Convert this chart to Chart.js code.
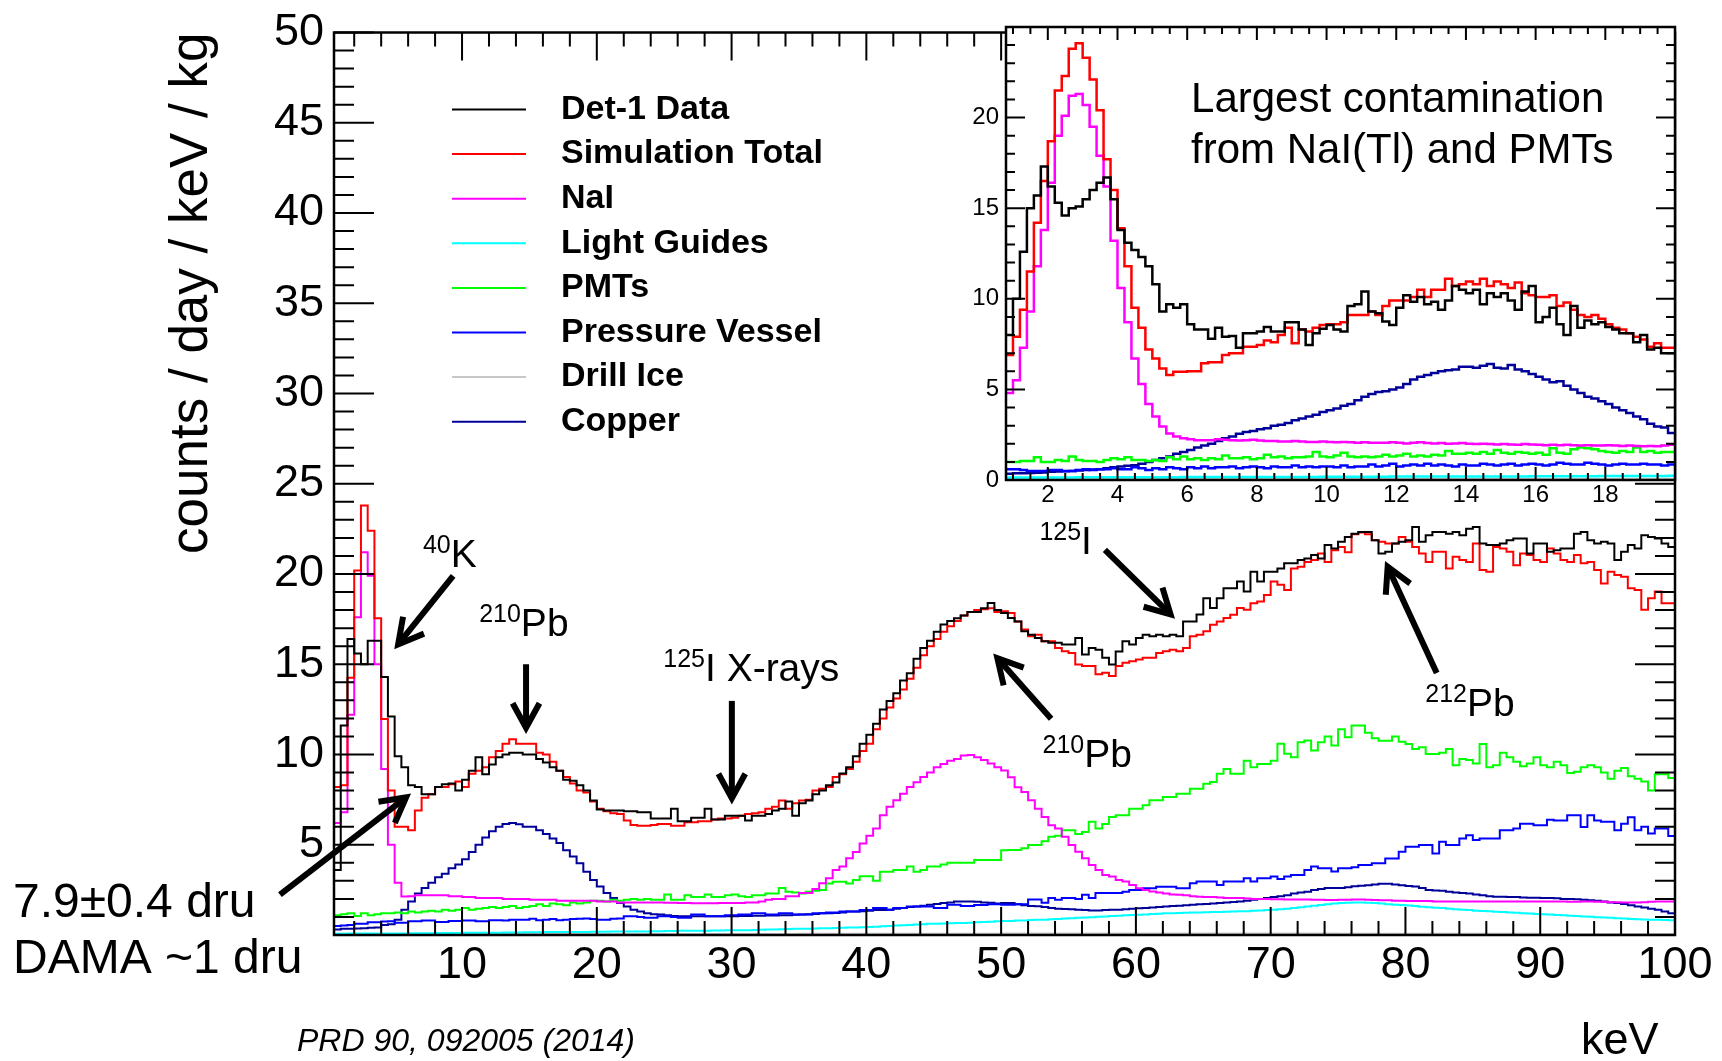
<!DOCTYPE html>
<html>
<head>
<meta charset="utf-8">
<title>Det-1 background spectrum</title>
<script src="https://cdn.jsdelivr.net/npm/chart.js"></script>
<style>
    html, body { margin: 0; padding: 0; background: #fff; }
    #wrap { position: relative; width: 1722px; height: 1061px; }
    #mainCanvas { position: absolute; left: 0; top: 0; }
    #insetCanvas { position: absolute; left: 940px; top: 0; }
</style>
</head>
<body>
<div id="wrap">
    <canvas id="mainCanvas" width="1722" height="1061"></canvas>
    <canvas id="insetCanvas" width="782" height="540"></canvas>
</div>
<script>
const FONT = "'Liberation Sans', Arial, Helvetica, sans-serif";

// legend order and ROOT colours
const seriesNames = ['Det-1 Data', 'Simulation Total', 'NaI', 'Light Guides', 'PMTs', 'Pressure Vessel', 'Drill Ice', 'Copper'];
const seriesColors = ['#000000', '#ff0000', '#ff00ff', '#00ffff', '#00ff00', '#0000ff', '#c8c8c8', '#000099'];

// axis ticks
const mainXTicks = [10, 20, 30, 40, 50, 60, 70, 80, 90, 100];
const mainYTicks = [5, 10, 15, 20, 25, 30, 35, 40, 45, 50];
const insetXTicks = [2, 4, 6, 8, 10, 12, 14, 16, 18];
const insetYTicks = [0, 5, 10, 15, 20];

// main spectrum: 0.5 keV bins starting at 0.5 keV
const mainStart = 0.5;
const mainWidth = 0.5;

const mainDet1 = [
    3.6, 11.6, 16.4, 15.6, 15.0, 16.3, 16.3, 14.3, 12.1,
    9.9, 9.3, 8.3, 8.2, 7.8, 7.8, 8.2, 8.35, 8.4, 8.0,
    8.6, 9.1, 9.85, 8.9, 9.45, 9.85, 10.0, 10.1, 10.1, 10.0,
    10.0, 9.75, 9.55, 9.3, 9.1, 8.6, 8.55, 8.3, 8.0, 7.45,
    6.95, 6.9, 6.9, 6.9, 6.85, 6.85, 6.8, 6.8, 6.45, 6.45,
    6.45, 7.0, 6.3, 6.3, 6.5, 6.5, 7.0, 6.4, 6.4, 6.6,
    6.6, 6.6, 6.35, 6.6, 6.6, 6.7, 6.9, 7.0, 7.4, 6.6,
    7.3, 7.45, 7.8, 8.0, 8.3, 8.45, 8.95, 9.3, 9.9, 10.6,
    11.1, 11.7, 12.5, 12.96, 13.4, 14.1, 14.5, 15.3, 15.9, 16.3,
    16.8, 17.2, 17.4, 17.55, 17.7, 17.9, 17.9, 18.1, 18.4, 18.0,
    17.84, 17.56, 17.37, 16.83, 16.64, 16.46, 16.28, 16.19, 16.19, 16.09,
    16.09, 16.46, 15.54, 15.9, 15.8, 15.36, 14.99, 15.7, 16.28, 16.09,
    16.46, 16.64, 16.55, 16.64, 16.55, 16.64, 16.55, 17.37, 17.37, 17.75,
    18.66, 18.11, 18.66, 19.21, 19.21, 19.58, 19.03, 20.13, 19.58, 20.13,
    20.13, 20.31, 20.59, 20.59, 20.77, 20.86, 21.05, 20.86, 21.6, 21.41,
    21.78, 22.05, 22.23, 22.33, 22.33, 21.87, 21.14, 21.23, 21.69, 21.78,
    21.87, 22.6, 21.78, 22.14, 22.33, 22.33, 22.23, 22.33, 22.14, 22.51,
    22.6, 21.69, 21.6, 21.6, 21.69, 21.87, 21.96, 21.96, 21.14, 21.69,
    21.69, 21.23, 21.32, 21.41, 21.41, 22.23, 22.33, 21.87, 21.69, 21.78,
    21.69, 20.77, 21.23, 21.6, 21.41, 22.14, 22.05, 21.96, 21.69, 21.5
];

const mainSimTotal = [
    8.2, 8.3, 14.25, 20.2, 23.8, 22.4, 17.55, 11.96, 8.0,
    6.0, 6.0, 5.8, 6.9, 7.6, 7.8, 8.2, 8.2, 8.35, 8.5,
    8.2, 8.93, 9.1, 9.3, 9.85, 10.2, 10.6, 10.85, 10.6, 10.6,
    10.6, 10.1, 10.0, 9.6, 9.1, 8.75, 8.4, 8.0, 7.9, 7.4,
    7.0, 6.85, 6.75, 6.7, 6.35, 6.1, 6.05, 6.05, 6.1, 6.15,
    6.15, 6.05, 6.05, 6.25, 6.25, 6.3, 6.3, 6.4, 6.45, 6.45,
    6.5, 6.6, 6.7, 6.75, 6.8, 7.0, 7.1, 7.45, 7.0, 7.3,
    7.45, 7.5, 8.0, 8.1, 8.2, 8.75, 8.9, 9.2, 9.6, 10.2,
    10.6, 11.4, 12.0, 12.6, 13.1, 13.6, 14.2, 14.8, 15.5, 16.0,
    16.4, 16.8, 17.1, 17.4, 17.7, 17.9, 18.0, 18.05, 18.1, 17.9,
    17.93, 17.84, 17.37, 16.92, 16.55, 16.64, 16.28, 16.28, 15.9, 15.72,
    15.63, 14.99, 14.9, 14.9, 14.44, 14.53, 14.35, 14.9, 15.08, 15.17,
    15.26, 15.36, 15.36, 15.63, 15.72, 15.8, 15.72, 15.9, 16.55, 16.64,
    16.83, 17.19, 17.37, 17.56, 17.74, 18.11, 18.02, 18.38, 18.47, 18.84,
    19.58, 19.4, 19.12, 20.31, 20.4, 20.67, 20.77, 21.14, 20.67, 21.32,
    21.5, 21.2, 22.2, 22.3, 22.2, 21.87, 21.78, 21.69, 21.69, 22.05,
    21.78, 21.5, 21.14, 20.67, 21.23, 21.23, 20.31, 20.95, 20.77, 20.67,
    21.69, 20.22, 20.13, 21.5, 21.41, 21.23, 20.49, 21.14, 21.05, 20.77,
    20.67, 21.41, 21.14, 20.77, 20.67, 21.05, 20.59, 20.67, 20.22, 19.48,
    20.13, 19.94, 19.85, 19.21, 19.12, 18.02, 18.66, 19.03, 18.38, 18.38
];

const mainNaI = [
    6.2, 6.8, 12.2, 17.6, 21.2, 19.9, 15.0, 9.2, 5.0,
    2.9, 2.13, 2.15, 2.2, 2.2, 2.2, 2.2, 2.2, 2.15, 2.15,
    2.1, 2.1, 2.05, 2.05, 2.05, 2.05, 2.0, 2.0, 2.0, 2.0,
    1.95, 1.95, 1.95, 1.95, 1.9, 1.9, 1.9, 1.9, 1.9, 1.9,
    1.85, 1.85, 1.85, 1.8, 1.8, 1.8, 1.8, 1.8, 1.8, 1.8,
    1.78, 1.78, 1.77, 1.77, 1.76, 1.76, 1.76, 1.76, 1.77, 1.77,
    1.77, 1.77, 1.8, 1.8, 1.85, 1.95, 2.0, 2.0, 2.14, 2.14,
    2.33, 2.33, 2.55, 2.87, 3.15, 3.6, 3.79, 4.25, 4.6, 5.07,
    5.5, 5.9, 6.63, 7.1, 7.46, 7.83, 8.2, 8.46, 8.75, 9.0,
    9.3, 9.48, 9.66, 9.75, 9.94, 9.97, 9.85, 9.7, 9.5, 9.3,
    9.11, 8.74, 8.19, 7.92, 7.46, 7.0, 6.54, 6.08, 5.9, 5.44,
    4.98, 4.61, 4.25, 3.88, 3.6, 3.33, 3.24, 3.05, 2.96, 2.77,
    2.59, 2.5, 2.41, 2.35, 2.3, 2.25, 2.23, 2.2, 2.15, 2.12,
    2.1, 2.1, 2.08, 2.05, 2.05, 2.05, 2.02, 2.0, 2.0, 2.0,
    1.98, 1.98, 1.97, 1.96, 1.96, 1.96, 1.95, 1.95, 1.94, 1.94,
    1.95, 1.95, 1.97, 1.96, 1.95, 1.94, 1.92, 1.92, 1.9, 1.9,
    1.88, 1.88, 1.88, 1.88, 1.86, 1.86, 1.86, 1.86, 1.86, 1.86,
    1.86, 1.86, 1.86, 1.86, 1.85, 1.85, 1.86, 1.86, 1.86, 1.86,
    1.86, 1.85, 1.85, 1.85, 1.84, 1.84, 1.85, 1.86, 1.84, 1.84,
    1.82, 1.82, 1.8, 1.8, 1.8, 1.82, 1.84, 1.86, 1.86, 1.86
];

const mainGuides = [
    0.07, 0.07, 0.08, 0.08, 0.08, 0.08, 0.09, 0.09, 0.09,
    0.09, 0.09, 0.1, 0.1, 0.1, 0.1, 0.11, 0.11, 0.11, 0.11,
    0.12, 0.12, 0.12, 0.13, 0.13, 0.13, 0.14, 0.14, 0.14, 0.15,
    0.15, 0.15, 0.16, 0.16, 0.16, 0.17, 0.17, 0.17, 0.17, 0.18,
    0.18, 0.18, 0.19, 0.19, 0.19, 0.2, 0.2, 0.2, 0.21, 0.21,
    0.22, 0.22, 0.23, 0.23, 0.24, 0.24, 0.24, 0.25, 0.25, 0.26,
    0.26, 0.27, 0.27, 0.28, 0.29, 0.3, 0.31, 0.32, 0.33, 0.34,
    0.34, 0.35, 0.36, 0.37, 0.38, 0.39, 0.4, 0.41, 0.42, 0.43,
    0.44, 0.46, 0.48, 0.5, 0.52, 0.54, 0.56, 0.58, 0.6, 0.62,
    0.63, 0.64, 0.65, 0.66, 0.67, 0.68, 0.7, 0.72, 0.74, 0.76,
    0.77, 0.78, 0.8, 0.81, 0.83, 0.84, 0.85, 0.87, 0.89, 0.91,
    0.93, 0.95, 0.97, 0.99, 1.01, 1.03, 1.05, 1.07, 1.09, 1.11,
    1.12, 1.14, 1.16, 1.18, 1.2, 1.21, 1.22, 1.23, 1.24, 1.25,
    1.26, 1.27, 1.28, 1.29, 1.3, 1.31, 1.32, 1.34, 1.36, 1.38,
    1.4, 1.43, 1.46, 1.5, 1.54, 1.58, 1.62, 1.66, 1.7, 1.74,
    1.77, 1.79, 1.8, 1.8, 1.79, 1.77, 1.74, 1.71, 1.68, 1.66,
    1.63, 1.6, 1.57, 1.54, 1.51, 1.49, 1.46, 1.43, 1.4, 1.38,
    1.35, 1.33, 1.31, 1.29, 1.27, 1.25, 1.23, 1.21, 1.19, 1.17,
    1.15, 1.13, 1.11, 1.09, 1.07, 1.05, 1.03, 1.01, 0.99, 0.97,
    0.95, 0.93, 0.91, 0.89, 0.87, 0.86, 0.85, 0.84, 0.83, 0.82
];

const mainPMTs = [
    1.1, 1.15, 1.2, 1.05, 1.2, 1.1, 1.15, 1.2, 1.2,
    1.25, 1.2, 1.3, 1.25, 1.3, 1.35, 1.3, 1.4, 1.35, 1.4,
    1.5, 1.4, 1.45, 1.5, 1.55, 1.5, 1.55, 1.6, 1.5, 1.55,
    1.6, 1.7, 1.6, 1.75, 1.7, 1.65, 1.8, 1.75, 1.8, 1.9,
    1.9, 1.85, 1.95, 1.9, 1.95, 2.0, 1.95, 2.0, 1.95, 1.95,
    2.25, 1.95, 1.95, 2.2, 2.1, 2.1, 2.25, 2.1, 2.1, 2.2,
    2.25, 2.15, 2.1, 2.2, 2.2, 2.3, 2.3, 2.6, 2.4, 2.35,
    2.3, 2.4, 2.45, 2.5, 2.85, 2.95, 2.95, 2.85, 3.05, 3.25,
    3.25, 3.0, 3.5, 3.5, 3.6, 3.6, 3.8, 3.5, 3.6, 3.8,
    3.8, 3.9, 4.0, 4.0, 4.0, 4.0, 4.16, 4.16, 4.16, 4.16,
    4.7, 4.71, 4.71, 4.8, 4.98, 4.98, 5.2, 5.44, 5.5, 5.8,
    5.8, 5.6, 5.7, 6.27, 5.9, 6.15, 6.54, 6.63, 6.63, 7.0,
    7.0, 7.19, 7.46, 7.46, 7.65, 7.65, 7.83, 7.83, 8.1, 8.1,
    8.38, 8.47, 8.93, 9.2, 8.93, 8.93, 9.66, 9.3, 9.48, 9.48,
    9.66, 10.59, 10.04, 9.85, 10.68, 10.77, 10.22, 10.68, 11.0, 10.5,
    11.4, 10.95, 11.6, 11.6, 11.2, 10.9, 10.76, 10.76, 11.0, 10.7,
    10.58, 10.3, 10.4, 10.03, 10.03, 10.1, 10.3, 9.4, 9.75, 9.7,
    9.5, 10.58, 9.3, 9.4, 10.1, 9.85, 9.6, 9.35, 9.5, 9.85,
    9.4, 9.3, 9.6, 9.4, 8.98, 9.05, 9.3, 9.4, 9.3, 9.0,
    8.66, 9.1, 9.25, 8.8, 8.66, 8.5, 8.0, 8.9, 8.9, 8.7
];

const mainVessel = [
    0.5, 0.52, 0.55, 0.62, 0.63, 0.7, 0.71, 0.75, 0.76,
    0.68, 0.68, 0.76, 0.76, 0.8, 0.8, 0.72, 0.72, 0.78, 0.78,
    0.8, 0.8, 0.76, 0.76, 0.82, 0.82, 0.8, 0.85, 0.85, 0.85,
    0.9, 0.82, 0.85, 0.88, 0.82, 0.85, 0.88, 0.9, 0.92, 0.88,
    0.85, 0.85, 0.9, 0.92, 1.04, 1.04, 1.0, 0.95, 0.95, 1.04,
    1.04, 1.0, 0.95, 0.95, 1.13, 1.13, 1.04, 1.04, 1.04, 1.1,
    1.1, 1.13, 1.13, 1.2, 1.2, 1.13, 1.13, 1.2, 1.2, 1.13,
    1.13, 1.13, 1.2, 1.2, 1.24, 1.24, 1.3, 1.3, 1.3, 1.39,
    1.39, 1.5, 1.5, 1.4, 1.5, 1.5, 1.58, 1.58, 1.58, 1.58,
    1.5, 1.5, 1.68, 1.68, 1.6, 1.6, 1.66, 1.66, 1.7, 1.7,
    1.68, 1.68, 1.7, 1.7, 1.96, 1.96, 1.78, 2.05, 1.95, 2.05,
    2.05, 2.0, 2.23, 2.05, 2.32, 2.32, 2.32, 2.32, 2.4, 2.5,
    2.5, 2.59, 2.59, 2.68, 2.68, 2.68, 2.59, 2.59, 2.87, 2.96,
    2.96, 2.96, 2.77, 2.96, 2.96, 2.96, 3.14, 2.96, 3.14, 3.14,
    3.24, 3.1, 3.24, 3.33, 3.33, 3.6, 3.79, 3.7, 3.7, 3.52,
    3.7, 3.7, 3.75, 3.88, 3.88, 3.97, 3.97, 4.24, 4.24, 4.61,
    4.89, 4.89, 4.98, 4.98, 4.52, 5.17, 4.98, 4.98, 5.35, 5.53,
    5.26, 5.35, 5.35, 5.35, 5.8, 5.8, 5.9, 6.17, 6.17, 6.08,
    6.08, 6.39, 6.35, 6.35, 6.63, 6.63, 5.99, 6.63, 6.35, 6.27,
    6.27, 5.8, 6.17, 6.53, 5.8, 6.0, 5.62, 5.9, 5.9, 5.48
];

const mainCopper = [
    0.3, 0.34, 0.34, 0.36, 0.38, 0.4, 0.42, 0.55, 0.6,
    0.85, 1.4, 1.86, 2.3, 2.6, 2.9, 3.2, 3.4, 3.7, 3.9,
    4.2, 4.6, 5.0, 5.4, 5.75, 6.0, 6.15, 6.2, 6.14, 6.0,
    6.0, 5.8, 5.6, 5.35, 5.1, 4.7, 4.35, 3.98, 3.5, 3.05,
    2.69, 2.32, 2.05, 1.77, 1.58, 1.4, 1.3, 1.2, 1.15, 1.13,
    1.1, 1.05, 1.04, 1.04, 1.04, 1.04, 1.04, 1.04, 1.04, 1.04,
    1.04, 1.05, 1.05, 1.06, 1.06, 1.08, 1.08, 1.1, 1.1, 1.12,
    1.13, 1.15, 1.17, 1.2, 1.2, 1.22, 1.25, 1.3, 1.3, 1.32,
    1.35, 1.39, 1.39, 1.4, 1.45, 1.5, 1.55, 1.58, 1.62, 1.68,
    1.72, 1.77, 1.8, 1.86, 1.86, 1.86, 1.84, 1.8, 1.78, 1.75,
    1.77, 1.77, 1.7, 1.65, 1.6, 1.59, 1.55, 1.5, 1.46, 1.44,
    1.42, 1.4, 1.38, 1.36, 1.36, 1.38, 1.4, 1.4, 1.42, 1.45,
    1.48, 1.5, 1.53, 1.55, 1.58, 1.6, 1.62, 1.65, 1.68, 1.7,
    1.72, 1.75, 1.77, 1.8, 1.83, 1.86, 1.9, 1.95, 2.0, 2.05,
    2.1, 2.15, 2.2, 2.3, 2.35, 2.4, 2.5, 2.55, 2.6, 2.6,
    2.6, 2.65, 2.7, 2.73, 2.76, 2.8, 2.84, 2.84, 2.8, 2.75,
    2.72, 2.69, 2.6, 2.5, 2.47, 2.45, 2.4, 2.35, 2.33, 2.3,
    2.25, 2.2, 2.15, 2.12, 2.12, 2.1, 2.1, 2.08, 2.07, 2.06,
    2.05, 2.05, 2.03, 2.0, 2.0, 1.98, 1.95, 1.92, 1.9, 1.85,
    1.8, 1.77, 1.72, 1.65, 1.58, 1.52, 1.45, 1.4, 1.3, 1.2
];

// drill ice is flat at the floor, read on 5 keV bins
const iceStart = 0;
const iceWidth = 5;
const mainIce = [0.04, 0.05, 0.05, 0.05, 0.06, 0.06, 0.06, 0.07, 0.07, 0.07,
    0.08, 0.08, 0.08, 0.08, 0.08, 0.07, 0.07, 0.07, 0.06, 0.06];

// inset: 0.2 keV bins starting at 0.8 keV
const insetStart = 0.8;
const insetWidth = 0.2;

const insetDet1 = [
    8.0, 10.0, 12.6, 15.0, 15.7,
    17.3, 16.2, 15.3, 14.6, 15.0,
    15.1, 15.5, 16.0, 16.4, 16.7,
    15.5, 13.8, 13.1, 12.7, 12.3,
    11.8, 10.8, 9.3, 9.7, 9.5,
    9.7, 8.6, 8.3, 8.3, 7.8,
    8.4, 7.9, 7.95, 7.3, 8.1,
    8.1, 8.2, 8.45, 8.2, 8.2,
    8.7, 8.7, 8.3, 7.45, 8.1,
    8.35, 8.55, 8.3, 8.2, 9.6,
    9.7, 10.4, 9.3, 9.2, 8.75,
    8.55, 9.5, 10.2, 9.84, 10.1,
    9.7, 9.84, 9.4, 9.9, 10.7,
    10.5, 10.3, 10.5, 9.7, 10.3,
    10.1, 10.3, 9.9, 9.4, 10.4,
    10.7, 8.7, 9.0, 9.5, 8.6,
    8.0, 9.6, 8.4, 8.8, 8.6,
    8.7, 8.45, 8.3, 8.1, 8.1,
    7.6, 8.0, 7.2, 7.3, 7.0,
    7.0
];

const insetSimTotal = [
    6.9, 7.9, 9.4, 11.5, 14.2,
    16.5, 18.7, 21.5, 22.3, 23.8,
    24.1, 23.3, 22.1, 20.4, 17.7,
    16.0, 13.9, 11.8, 9.5, 8.4,
    7.2, 6.7, 6.15, 5.8, 5.97,
    5.97, 6.0, 6.0, 6.44, 6.5,
    6.5, 6.9, 7.0, 7.0, 7.35,
    7.35, 7.45, 7.7, 7.6, 8.0,
    8.4, 7.55, 8.3, 8.2, 8.4,
    8.55, 8.6, 8.6, 8.7, 9.1,
    9.1, 9.1, 9.3, 9.1, 9.6,
    9.9, 9.9, 9.9, 10.1, 10.5,
    10.1, 10.5, 10.5, 11.1, 10.7,
    10.8, 10.95, 10.8, 11.1, 10.7,
    10.95, 10.8, 10.6, 10.9, 10.3,
    10.2, 10.1, 10.1, 10.2, 9.6,
    9.8, 9.4, 9.1, 9.0, 9.1,
    8.9, 8.6, 8.4, 8.3, 8.1,
    7.9, 7.75, 7.35, 7.55, 7.3,
    7.3
];

const insetNaI = [
    4.8, 5.5, 7.3, 9.3, 11.8,
    13.8, 16.4, 19.0, 20.1, 21.2,
    21.3, 20.7, 19.5, 17.9, 16.2,
    13.2, 10.6, 8.7, 6.7, 5.3,
    4.2, 3.5, 2.95, 2.57, 2.4,
    2.3, 2.25, 2.2, 2.2, 2.2,
    2.25, 2.22, 2.2, 2.18, 2.2,
    2.22, 2.18, 2.15, 2.15, 2.12,
    2.12, 2.15, 2.12, 2.1, 2.1,
    2.12, 2.1, 2.08, 2.1, 2.08,
    2.06, 2.08, 2.06, 2.05, 2.05,
    2.08, 2.05, 2.02, 2.05, 2.08,
    2.04, 2.02, 2.04, 2.0, 2.02,
    2.04, 2.0, 1.98, 2.0, 1.98,
    1.96, 1.98, 1.96, 1.95, 1.98,
    1.96, 1.94, 1.92, 1.95, 1.92,
    1.94, 1.92, 1.9, 1.92, 1.9,
    1.9, 1.92, 1.9, 1.88, 1.9,
    1.88, 1.86, 1.88, 1.86, 1.9,
    1.95
];

const insetPMTs = [
    1.0, 1.0, 1.05, 1.05, 1.25,
    1.0, 1.0, 1.1, 1.05, 1.3,
    1.1, 1.05, 1.05, 1.0, 1.1,
    1.2, 1.15, 1.25, 1.1, 1.1,
    1.05, 1.1, 1.05, 1.25, 1.15,
    1.3, 1.15, 1.2, 1.1, 1.2,
    1.15, 1.35, 1.2, 1.2, 1.25,
    1.15, 1.2, 1.4, 1.25, 1.3,
    1.2, 1.25, 1.25, 1.3, 1.55,
    1.3, 1.25, 1.35, 1.5, 1.3,
    1.25, 1.3, 1.25, 1.3, 1.4,
    1.3, 1.35, 1.45, 1.3, 1.35,
    1.3, 1.4, 1.35, 1.6, 1.45,
    1.45, 1.5, 1.45, 1.55, 1.45,
    1.65, 1.5, 1.45, 1.55, 1.5,
    1.45, 1.5, 1.4, 1.75, 1.5,
    1.45, 1.7, 1.8, 1.75, 1.7,
    1.6, 1.55, 1.5, 1.6, 1.55,
    1.8, 1.55, 1.6, 1.5, 1.55,
    1.55
];

const insetVessel = [
    0.6, 0.6, 0.55, 0.5, 0.5,
    0.5, 0.55, 0.55, 0.5, 0.5,
    0.55, 0.6, 0.55, 0.6, 0.6,
    0.65, 0.6, 0.6, 0.7, 0.65,
    0.55, 0.65, 0.6, 0.7, 0.65,
    0.6, 0.7, 0.65, 0.75, 0.65,
    0.7, 0.7, 0.75, 0.65, 0.7,
    0.75, 0.7, 0.65, 0.75, 0.7,
    0.7, 0.8, 0.7, 0.75, 0.7,
    0.75, 0.75, 0.7, 0.8, 0.7,
    0.75, 0.75, 0.85, 0.75, 0.8,
    0.9, 0.75, 0.8, 0.85, 0.8,
    0.9, 0.8, 0.85, 0.8, 0.75,
    0.85, 0.8, 0.8, 0.9, 0.85,
    0.8, 0.85, 0.9, 0.8, 0.85,
    0.9, 0.85, 0.8, 0.85, 0.95,
    0.9, 0.85, 0.85, 0.95, 0.9,
    0.85, 0.8, 0.85, 0.9, 0.85,
    0.85, 0.9, 0.85, 0.85, 0.8,
    0.85
];

const insetCopper = [
    0.35, 0.37, 0.37, 0.38, 0.4,
    0.42, 0.45, 0.47, 0.48, 0.5,
    0.52, 0.55, 0.58, 0.6, 0.65,
    0.7, 0.75, 0.78, 0.82, 0.9,
    1.0, 1.1, 1.2, 1.3, 1.45,
    1.55, 1.65, 1.8, 1.9, 2.0,
    2.15, 2.3, 2.4, 2.55, 2.65,
    2.7, 2.8, 2.85, 3.0, 3.05,
    3.15, 3.3, 3.4, 3.5, 3.6,
    3.75, 3.85, 3.95, 4.1, 4.2,
    4.4, 4.6, 4.75, 4.85, 4.9,
    5.0, 5.1, 5.3, 5.55, 5.7,
    5.8, 5.9, 6.0, 6.05, 6.1,
    6.25, 6.25, 6.2, 6.3, 6.4,
    6.2, 6.15, 6.35, 6.1, 6.0,
    5.85, 5.7, 5.55, 5.4, 5.45,
    5.2, 5.0, 4.8, 4.6, 4.5,
    4.35, 4.2, 4.0, 3.85, 3.7,
    3.5, 3.35, 3.1, 2.95, 2.9,
    2.6
];

// the two flat curves of the inset, read on coarser bins
const insetGuidesWidth = 1;
const insetGuides = [0.14, 0.14, 0.15, 0.15, 0.15, 0.16, 0.16, 0.17, 0.17, 0.18,
    0.18, 0.19, 0.19, 0.2, 0.2, 0.21, 0.21, 0.22, 0.22, 0.23];
const insetIceWidth = 5;
const insetIce = [0.04, 0.05, 0.05, 0.06];

function histPoints(values, start, width) {
    const points = values.map((v, i) => ({ x: start + i * width, y: v }));
    points.push({ x: start + values.length * width, y: values[values.length - 1] });
    return points;
}

function makeDatasets(series, lineWidth) {
    return series.map((s, i) => ({
        label: seriesNames[i],
        data: histPoints(s[0], s[1], s[2]),
        borderColor: seriesColors[i],
        borderWidth: lineWidth,
        stepped: true,
        pointRadius: 0,
        fill: false
    }));
}

function eachTick(scale, minor, major, fn) {
    const first = Math.ceil(scale.min / minor - 1e-9);
    const last = Math.floor(scale.max / minor + 1e-9);
    for (let n = first; n <= last; n++) {
        const v = n * minor;
        const r = v / major;
        fn(v, Math.abs(r - Math.round(r)) < 1e-6);
    }
}

// ROOT style frame: ticks pointing inwards on all four sides
const frameTicks = {
    id: 'frameTicks',
    beforeDraw(chart, args, opts) {
        if (!opts.fill) return;
        const a = chart.chartArea;
        chart.ctx.save();
        chart.ctx.fillStyle = '#fff';
        chart.ctx.fillRect(a.left, a.top, a.right - a.left, a.bottom - a.top);
        chart.ctx.restore();
    },
    afterDatasetsDraw(chart, args, opts) {
        const { ctx, chartArea: a, scales: { x, y } } = chart;
        ctx.save();
        ctx.strokeStyle = '#000';
        ctx.lineWidth = opts.tickWidth;
        ctx.beginPath();
        eachTick(x, opts.xMinor, opts.xMajor, (v, major) => {
            const px = x.getPixelForValue(v);
            const len = major ? opts.xLen[0] : opts.xLen[1];
            ctx.moveTo(px, a.bottom); ctx.lineTo(px, a.bottom - len);
            ctx.moveTo(px, a.top); ctx.lineTo(px, a.top + len);
        });
        eachTick(y, opts.yMinor, opts.yMajor, (v, major) => {
            const py = y.getPixelForValue(v);
            const len = major ? opts.yLen[0] : opts.yLen[1];
            ctx.moveTo(a.left, py); ctx.lineTo(a.left + len, py);
            ctx.moveTo(a.right, py); ctx.lineTo(a.right - len, py);
        });
        ctx.stroke();
        ctx.lineWidth = opts.frameWidth;
        ctx.strokeRect(a.left, a.top, a.right - a.left, a.bottom - a.top);
        ctx.restore();
    }
};

function drawArrow(ctx, x0, y0, x1, y1, width, head) {
    const ang = Math.atan2(y1 - y0, x1 - x0);
    ctx.lineWidth = width;
    ctx.lineJoin = 'miter';
    ctx.beginPath();
    ctx.moveTo(x0, y0);
    ctx.lineTo(x1, y1);
    ctx.stroke();
    ctx.beginPath();
    ctx.moveTo(x1 - head * Math.cos(ang - 0.5), y1 - head * Math.sin(ang - 0.5));
    ctx.lineTo(x1, y1);
    ctx.lineTo(x1 - head * Math.cos(ang + 0.5), y1 - head * Math.sin(ang + 0.5));
    ctx.stroke();
}

// arrows and isotope labels placed in data coordinates
const notes = {
    id: 'notes',
    afterDraw(chart, args, opts) {
        const { ctx, scales: { x, y } } = chart;
        ctx.save();
        ctx.fillStyle = '#000';
        ctx.strokeStyle = '#000';
        ctx.textAlign = 'left';
        ctx.textBaseline = 'alphabetic';
        (opts.arrows || []).forEach(a => {
            drawArrow(ctx, x.getPixelForValue(a[0]), y.getPixelForValue(a[1]),
                x.getPixelForValue(a[2]), y.getPixelForValue(a[3]), opts.arrowWidth, opts.headLength);
        });
        (opts.labels || []).forEach(l => {
            let px = x.getPixelForValue(l.at[0]);
            const py = y.getPixelForValue(l.at[1]);
            if (l.sup) {
                ctx.font = opts.supSize + 'px ' + FONT;
                ctx.fillText(l.sup, px, py - opts.supRaise);
                px += ctx.measureText(l.sup).width;
            }
            ctx.font = (l.size || opts.size) + 'px ' + FONT;
            ctx.fillText(l.text, px, py);
        });
        (opts.texts || []).forEach(t => {
            ctx.font = t.font;
            ctx.fillText(t.text, t.x, t.y);
        });
        ctx.restore();
    }
};

const boxLegend = {
    id: 'boxLegend',
    afterDraw(chart, args, opts) {
        if (!opts.display) return;
        const ctx = chart.ctx;
        ctx.save();
        ctx.font = opts.font;
        ctx.textBaseline = 'middle';
        ctx.fillStyle = '#000';
        chart.data.datasets.forEach((ds, i) => {
            const yy = opts.top + i * opts.rowHeight;
            ctx.strokeStyle = ds.borderColor;
            ctx.lineWidth = opts.lineWidth;
            ctx.beginPath();
            ctx.moveTo(opts.lineLeft, yy);
            ctx.lineTo(opts.lineRight, yy);
            ctx.stroke();
            ctx.fillText(ds.label, opts.textLeft, yy);
        });
        ctx.restore();
    }
};

function initMainChart() {
    const ctx = document.getElementById('mainCanvas').getContext('2d');
    const datasets = makeDatasets([
        [mainDet1, mainStart, mainWidth],
        [mainSimTotal, mainStart, mainWidth],
        [mainNaI, mainStart, mainWidth],
        [mainGuides, mainStart, mainWidth],
        [mainPMTs, mainStart, mainWidth],
        [mainVessel, mainStart, mainWidth],
        [mainIce, iceStart, iceWidth],
        [mainCopper, mainStart, mainWidth]
    ], 2);

    new Chart(ctx, {
        type: 'line',
        data: { datasets: datasets },
        plugins: [frameTicks, notes, boxLegend],
        options: {
            responsive: false,
            animation: false,
            events: [],
            layout: { padding: { top: 27, right: 47, left: 0, bottom: 0 } },
            scales: {
                x: {
                    type: 'linear',
                    min: 0.5,
                    max: 100,
                    afterBuildTicks: s => { s.ticks = mainXTicks.map(v => ({ value: v })); },
                    afterFit: s => { s.height = 126; },
                    grid: { display: false, drawTicks: false },
                    border: { display: false },
                    ticks: { font: { size: 45, lineHeight: 1 }, color: '#000', padding: 8, maxRotation: 0, autoSkip: false }
                },
                y: {
                    type: 'linear',
                    min: 0,
                    max: 50,
                    afterBuildTicks: s => { s.ticks = mainYTicks.map(v => ({ value: v })); },
                    afterFit: s => { s.width = 334; },
                    grid: { display: false, drawTicks: false },
                    border: { display: false },
                    ticks: { font: { size: 45, lineHeight: 1 }, color: '#000', padding: 10, autoSkip: false },
                    title: { display: true, text: 'counts / day / keV / kg', align: 'end', color: '#000',
                        font: { size: 53, lineHeight: 1 }, padding: { top: 166, bottom: 0 } }
                }
            },
            plugins: {
                legend: { display: false },
                tooltip: { enabled: false },
                frameTicks: { xMinor: 2, xMajor: 10, yMinor: 1, yMajor: 5, xLen: [28, 14], yLen: [40, 20], tickWidth: 2, frameWidth: 2.5 },
                boxLegend: { display: true, font: 'bold 34px ' + FONT, top: 109.5, rowHeight: 44.6,
                    lineLeft: 452, lineRight: 526, textLeft: 561, lineWidth: 2 },
                notes: {
                    arrowWidth: 6,
                    headLength: 28,
                    size: 39,
                    supSize: 25,
                    supRaise: 14,
                    arrows: [
                        [9.34, 19.9, 5.26, 16.1],
                        [14.75, 15.0, 14.75, 11.48],
                        [30.02, 12.97, 30.02, 7.57],
                        [53.71, 11.98, 49.72, 15.34],
                        [57.7, 21.34, 62.57, 17.76],
                        [82.32, 14.51, 78.68, 20.4],
                        [-3.51, 2.23, 5.85, 7.63]
                    ],
                    labels: [
                        { at: [7.1, 20.4], sup: '40', text: 'K' },
                        { at: [11.27, 16.55], sup: '210', text: 'Pb' },
                        { at: [24.93, 14.07], sup: '125', text: 'I X-rays' },
                        { at: [53.07, 9.28], sup: '210', text: 'Pb' },
                        { at: [52.84, 21.12], sup: '125', text: 'I' },
                        { at: [81.47, 12.14], sup: '212', text: 'Pb' }
                    ],
                    texts: [
                        { text: '7.9\u00b10.4 dru', x: 13, y: 917, font: '48px ' + FONT },
                        { text: 'DAMA ~1 dru', x: 13, y: 973, font: '48px ' + FONT },
                        { text: 'PRD 90, 092005 (2014)', x: 297, y: 1051, font: 'italic 32px ' + FONT },
                        { text: 'keV', x: 1581, y: 1054, font: '45px ' + FONT }
                    ]
                }
            }
        }
    });
}

function initInsetChart() {
    const ctx = document.getElementById('insetCanvas').getContext('2d');
    const datasets = makeDatasets([
        [insetDet1, insetStart, insetWidth],
        [insetSimTotal, insetStart, insetWidth],
        [insetNaI, insetStart, insetWidth],
        [insetGuides, insetStart, insetGuidesWidth],
        [insetPMTs, insetStart, insetWidth],
        [insetVessel, insetStart, insetWidth],
        [insetIce, insetStart, insetIceWidth],
        [insetCopper, insetStart, insetWidth]
    ], 2.5);

    new Chart(ctx, {
        type: 'line',
        data: { datasets: datasets },
        plugins: [frameTicks, notes],
        options: {
            responsive: false,
            animation: false,
            events: [],
            layout: { padding: { top: 27, right: 47, left: 0, bottom: 0 } },
            scales: {
                x: {
                    type: 'linear',
                    min: 0.8,
                    max: 20,
                    afterBuildTicks: s => { s.ticks = insetXTicks.map(v => ({ value: v })); },
                    afterFit: s => { s.height = 60; },
                    grid: { display: false, drawTicks: false },
                    border: { display: false },
                    ticks: { font: { size: 24, lineHeight: 1 }, color: '#000', padding: 3, maxRotation: 0, autoSkip: false }
                },
                y: {
                    type: 'linear',
                    min: 0,
                    max: 25,
                    afterBuildTicks: s => { s.ticks = insetYTicks.map(v => ({ value: v })); },
                    afterFit: s => { s.width = 66; },
                    grid: { display: false, drawTicks: false },
                    border: { display: false },
                    ticks: { font: { size: 24, lineHeight: 1 }, color: '#000', padding: 7, autoSkip: false }
                }
            },
            plugins: {
                legend: { display: false },
                tooltip: { enabled: false },
                frameTicks: { fill: true, xMinor: 0.5, xMajor: 2, yMinor: 1, yMajor: 5, xLen: [13, 7], yLen: [19, 9], tickWidth: 2, frameWidth: 2.5 },
                notes: {
                    size: 42,
                    labels: [
                        { at: [6.11, 20.33], text: 'Largest contamination' },
                        { at: [6.11, 17.51], text: 'from NaI(Tl) and PMTs' }
                    ]
                }
            }
        }
    });
}

document.addEventListener('DOMContentLoaded', function() {
    Chart.defaults.font.family = FONT;
    Chart.defaults.color = '#000';
    initMainChart();
    initInsetChart();
});
</script>
</body>
</html>
